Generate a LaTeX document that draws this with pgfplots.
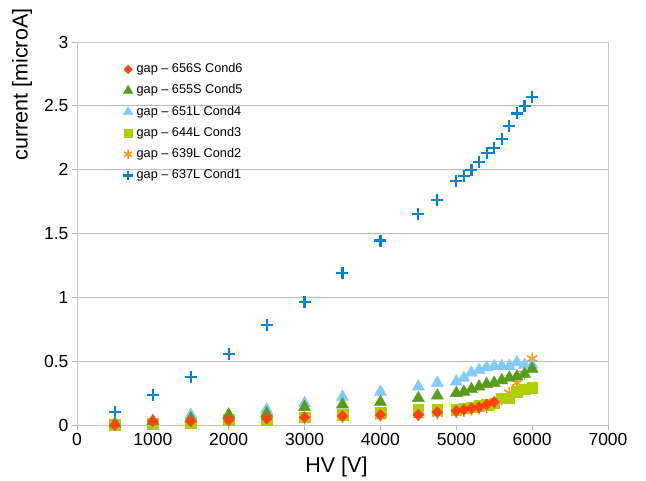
\documentclass[border=0pt]{standalone}
\usepackage{fontspec}
\setmainfont{Liberation Sans}
\usepackage{pgfplots}
\pgfplotsset{compat=1.18}
\definecolor{cblue}{HTML}{0084D1}
\definecolor{cred}{HTML}{FF420E}
\definecolor{cgreen}{HTML}{579D1C}
\definecolor{clblue}{HTML}{83CAFF}
\definecolor{cyg}{HTML}{AECF00}
\definecolor{corange}{HTML}{FF950E}
\definecolor{gridc}{HTML}{B3B3B3}
\begin{document}
\begin{tikzpicture}
\path[use as bounding box] (0,0) rectangle (646pt,481pt);
\begin{axis}[
  at={(77pt,56pt)}, anchor=south west,
  scale only axis, width=531pt, height=383pt,
  xmin=0, xmax=7000, ymin=0, ymax=3,
  xtick={0,1000,...,7000}, ytick={0,0.5,1,1.5,2,2.5,3},
  scaled ticks=false,
  /pgf/number format/1000 sep={},
  /pgf/number format/assume math mode=true,
  xtick pos=bottom, ytick pos=left,
  tick align=outside, major tick length=5pt,
  tick style={gridc, line width=0.8pt},
  axis line style={draw=gridc!75, line width=0.9pt},
  ymajorgrids, grid style={gridc!85, line width=0.9pt},
  tick label style={font=\fontsize{17.5}{20}\selectfont},
  xlabel={HV [V]}, ylabel={current [microA]},
  label style={font=\fontsize{21.5}{24}\selectfont},
  xlabel style={at={(axis description cs:0.4887,-0.1253)}, anchor=base},
  ylabel style={at={(axis description cs:-0.0932,0.889)}, anchor=base},
  reverse legend,
  legend style={at={(axis description cs:0.087,0.946)}, anchor=north west,
    draw=none, fill=none, font=\fontsize{12.7}{15}\selectfont,
    row sep=8pt, inner sep=0pt,
    /tikz/every odd column/.style={column sep=3pt},
    nodes={inner sep=0.8pt, anchor=west, text height=9pt, text depth=2.6pt}},
  legend cell align=left,
  legend image code/.code={\draw[#1,/tikz/every mark/.append style={scale=0.78}] plot coordinates {(0.2cm,0cm)};},
  only marks,
]
% Cond1
\addplot[mark=+, mark size=6pt, line width=2.2pt, cblue] coordinates {
(500,0.10)(1000,0.235)(1500,0.375)(2000,0.555)(2500,0.785)(3000,0.965)(3500,1.19)(4000,1.445)(4500,1.655)(4750,1.76)
(5000,1.91)(5100,1.95)(5200,2.00)(5300,2.06)(5400,2.13)(5500,2.17)(5600,2.24)(5700,2.34)(5800,2.44)(5900,2.50)(6000,2.57)};
\addlegendentry{gap -- 637L Cond1}
% Cond2
\addplot[mark=asterisk, mark size=6pt, line width=1.6pt, corange] coordinates {
(500,0.00)(1000,0.02)(1500,0.02)(2000,0.03)(2500,0.04)(3000,0.05)(3500,0.06)(4000,0.07)(4500,0.08)(4750,0.09)
(5000,0.10)(5100,0.11)(5200,0.12)(5300,0.13)(5400,0.14)(5500,0.16)(5600,0.20)(5700,0.25)(5800,0.33)(5900,0.40)(6000,0.52)};
\addlegendentry{gap -- 639L Cond2}
% Cond3
\addplot[mark=square*, mark size=5.3pt, cyg, mark options={draw=none,fill=cyg}] coordinates {
(500,0.00)(1000,0.01)(1500,0.02)(2000,0.04)(2500,0.04)(3000,0.06)(3500,0.08)(4000,0.10)(4500,0.12)(4750,0.12)
(5000,0.12)(5100,0.13)(5200,0.14)(5300,0.15)(5400,0.16)(5500,0.17)(5600,0.21)(5700,0.21)(5800,0.26)(5900,0.28)(6000,0.29)};
\addlegendentry{gap -- 644L Cond3}
% Cond4
\addplot[mark=triangle*, mark size=7pt, clblue, mark options={draw=none,fill=clblue}] coordinates {
(500,0.01)(1000,0.03)(1500,0.08)(2000,0.08)(2500,0.12)(3000,0.17)(3500,0.22)(4000,0.26)(4500,0.30)(4750,0.33)
(5000,0.34)(5100,0.37)(5200,0.41)(5300,0.43)(5400,0.45)(5500,0.46)(5600,0.46)(5700,0.46)(5800,0.49)(5900,0.47)(6000,0.47)};
\addlegendentry{gap -- 651L Cond4}
% Cond5
\addplot[mark=triangle*, mark size=7pt, cgreen, mark options={draw=none,fill=cgreen}] coordinates {
(500,0.01)(1000,0.03)(1500,0.05)(2000,0.08)(2500,0.09)(3000,0.14)(3500,0.16)(4000,0.18)(4500,0.21)(4750,0.23)
(5000,0.25)(5100,0.26)(5200,0.28)(5300,0.30)(5400,0.32)(5500,0.33)(5600,0.35)(5700,0.37)(5800,0.38)(5900,0.40)(6000,0.44)};
\addlegendentry{gap -- 655S Cond5}
% Cond6
\addplot[mark=diamond*, mark size=5.6pt, cred, mark options={draw=none,fill=cred,xscale=1.25}] coordinates {
(500,0.00)(1000,0.03)(1500,0.03)(2000,0.04)(2500,0.05)(3000,0.06)(3500,0.07)(4000,0.08)(4500,0.08)(4750,0.10)
(5000,0.11)(5100,0.12)(5200,0.13)(5300,0.14)(5400,0.16)(5500,0.18)};
\addlegendentry{gap -- 656S Cond6}
\end{axis}
\end{tikzpicture}
\end{document}
